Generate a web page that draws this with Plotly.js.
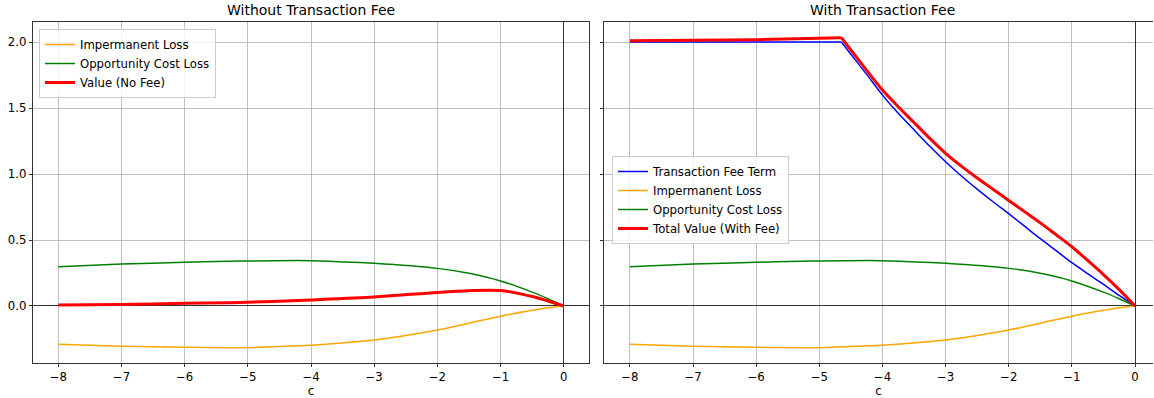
<!DOCTYPE html>
<html>
<head>
<meta charset="utf-8">
<script src="https://cdn.plot.ly/plotly-3.0.1.min.js"></script>
<style>html,body{margin:0;padding:0;background:#fff;}#chart{width:1154px;height:398px;}</style>
</head>
<body>
<div id="chart"></div>
<script>
// ---- data ----
const cCurve = [-8, -7, -6, -5.3, -5, -4.2, -4, -3, -2, -1.5, -1, -0.5, -0.25, 0];
const impermanentLoss = [-0.29, -0.305, -0.313, -0.317, -0.316, -0.302, -0.297, -0.258, -0.182, -0.13, -0.077, -0.033, -0.013, 0];
const opportunityCost = [0.298, 0.318, 0.331, 0.339, 0.341, 0.344, 0.343, 0.323, 0.285, 0.248, 0.19, 0.105, 0.055, 0];
const valueNoFee = [0.007, 0.012, 0.02, 0.025, 0.028, 0.042, 0.046, 0.068, 0.103, 0.116, 0.117, 0.072, 0.038, 0];

const cFee = [-8, -6, -4.65, -4.5, -4.25, -4, -3.75, -3.5, -3.25, -3, -2.75, -2.5, -2.25, -2, -1.75, -1.5, -1.25, -1, -0.75, -0.5, -0.25, 0];
const feeTerm = [2.0, 2.0, 2.0, 1.907, 1.755, 1.598, 1.46, 1.335, 1.21, 1.093, 0.985, 0.885, 0.79, 0.70, 0.605, 0.51, 0.42, 0.328, 0.245, 0.164, 0.08, 0];
const totalWithFee = [2.01, 2.018, 2.033, 1.94, 1.785, 1.636, 1.51, 1.39, 1.27, 1.157, 1.06, 0.97, 0.885, 0.80, 0.715, 0.63, 0.54, 0.449, 0.345, 0.238, 0.124, 0];
const kinkIndex = 2; // c = -4.65, where the fee term stops being flat

const xTicks = [-8, -7, -6, -5, -4, -3, -2, -1, 0];
const yTicks = [0.0, 0.5, 1.0, 1.5, 2.0];

const ORANGE = '#FFA500', GREEN = '#008000', RED = '#FF0000', BLUE = '#0000FF';
const FONT = 'DejaVu Sans, sans-serif';
const FS = 11.7;

function twoPart(xs, ys, name, color, width, legend, group) {
  return [
    {x: xs.slice(0, kinkIndex + 1), y: ys.slice(0, kinkIndex + 1), name: name, legendgroup: group, mode: 'lines',
     line: {color: color, width: width, shape: 'linear'}, xaxis: 'x2', yaxis: 'y2', legend: legend, showlegend: true},
    {x: xs.slice(kinkIndex), y: ys.slice(kinkIndex), name: name, legendgroup: group, mode: 'lines',
     line: {color: color, width: width, shape: 'spline', smoothing: 0.8}, xaxis: 'x2', yaxis: 'y2', legend: legend, showlegend: false}
  ];
}

const feeParts = twoPart(cFee, feeTerm, 'Transaction Fee Term', BLUE, 1.5, 'legend2', 'fee');
const totalParts = twoPart(cFee, totalWithFee, 'Total Value (With Fee)', RED, 3, 'legend2', 'total');

const traces = [
  {x: cCurve, y: impermanentLoss, name: 'Impermanent Loss', mode: 'lines', line: {color: ORANGE, width: 1.5, shape: 'spline', smoothing: 0.8}, xaxis: 'x', yaxis: 'y', legend: 'legend'},
  {x: cCurve, y: opportunityCost, name: 'Opportunity Cost Loss', mode: 'lines', line: {color: GREEN, width: 1.5, shape: 'spline', smoothing: 0.8}, xaxis: 'x', yaxis: 'y', legend: 'legend'},
  {x: cCurve, y: valueNoFee, name: 'Value (No Fee)', mode: 'lines', line: {color: RED, width: 3, shape: 'spline', smoothing: 0.8}, xaxis: 'x', yaxis: 'y', legend: 'legend'},
  feeParts[0], feeParts[1],
  {x: cCurve, y: impermanentLoss, name: 'Impermanent Loss', mode: 'lines', line: {color: ORANGE, width: 1.5, shape: 'spline', smoothing: 0.8}, xaxis: 'x2', yaxis: 'y2', legend: 'legend2'},
  {x: cCurve, y: opportunityCost, name: 'Opportunity Cost Loss', mode: 'lines', line: {color: GREEN, width: 1.5, shape: 'spline', smoothing: 0.8}, xaxis: 'x2', yaxis: 'y2', legend: 'legend2'},
  totalParts[0], totalParts[1]
];

const W = 1154, H = 398;
const xAxisBase = {
  tickvals: xTicks, ticktext: xTicks.map(v => v < 0 ? '\u2212' + Math.abs(v) : String(v)),
  showgrid: true, gridcolor: '#b0b0b0', gridwidth: 0.8,
  zeroline: true, zerolinecolor: '#000000', zerolinewidth: 0.8,
  showline: true, linecolor: '#000000', linewidth: 0.8, mirror: true,
  ticks: 'outside', ticklen: 3.5, tickwidth: 0.8, tickcolor: '#000000',
  tickfont: {family: FONT, size: FS, color: '#000000'},
  title: {text: 'c', font: {family: FONT, size: FS, color: '#000000'}, standoff: 6}
};
const yAxisBase = {
  range: [-0.432, 2.152], tickvals: yTicks, ticktext: yTicks.map(v => v.toFixed(1)),
  showgrid: true, gridcolor: '#b0b0b0', gridwidth: 0.8,
  zeroline: true, zerolinecolor: '#000000', zerolinewidth: 0.8,
  showline: true, linecolor: '#000000', linewidth: 0.8,
  ticks: 'outside', ticklen: 3.5, tickwidth: 0.8, tickcolor: '#000000',
  tickfont: {family: FONT, size: FS, color: '#000000'},
  domain: [(H - 363) / H, (H - 22) / H]
};

const legendBase = {
  bgcolor: 'rgba(255,255,255,0.8)', bordercolor: '#cccccc', borderwidth: 1,
  font: {family: FONT, size: FS, color: '#000000'},
  xanchor: 'left', yanchor: 'top', xref: 'paper', yref: 'paper',
  tracegroupgap: 0, itemwidth: 30, traceorder: 'normal'
};

const layout = {
  width: W, height: H,
  margin: {l: 0, r: 0, t: 0, b: 0, pad: 0},
  paper_bgcolor: '#ffffff', plot_bgcolor: '#ffffff',
  font: {family: FONT, size: FS, color: '#000000'},
  xaxis: Object.assign({}, xAxisBase, {range: [-8.4, 0.4], domain: [33 / W, 589 / W], anchor: 'y'}),
  yaxis: Object.assign({}, yAxisBase, {anchor: 'x', showticklabels: true, mirror: true}),
  xaxis2: Object.assign({}, xAxisBase, {range: [-8.41, 0.285], domain: [604 / W, 1153 / W], anchor: 'y2'}),
  yaxis2: Object.assign({}, yAxisBase, {anchor: 'x2', showticklabels: false, mirror: false}),
  legend: Object.assign({}, legendBase, {x: 39 / W, y: (H - 29) / H}),
  legend2: Object.assign({}, legendBase, {x: 612 / W, y: (H - 156) / H}),
  annotations: [
    {text: 'Without Transaction Fee', x: (33 + 589) / 2 / W, y: (H - 10) / H, xref: 'paper', yref: 'paper', showarrow: false, xanchor: 'center', yanchor: 'middle', font: {family: FONT, size: 14, color: '#000000'}},
    {text: 'With Transaction Fee', x: (604 + 1160) / 2 / W, y: (H - 10) / H, xref: 'paper', yref: 'paper', showarrow: false, xanchor: 'center', yanchor: 'middle', font: {family: FONT, size: 14, color: '#000000'}}
  ],
  showlegend: true
};

Plotly.newPlot('chart', traces, layout, {displayModeBar: false, staticPlot: true});
</script>
</body>
</html>
